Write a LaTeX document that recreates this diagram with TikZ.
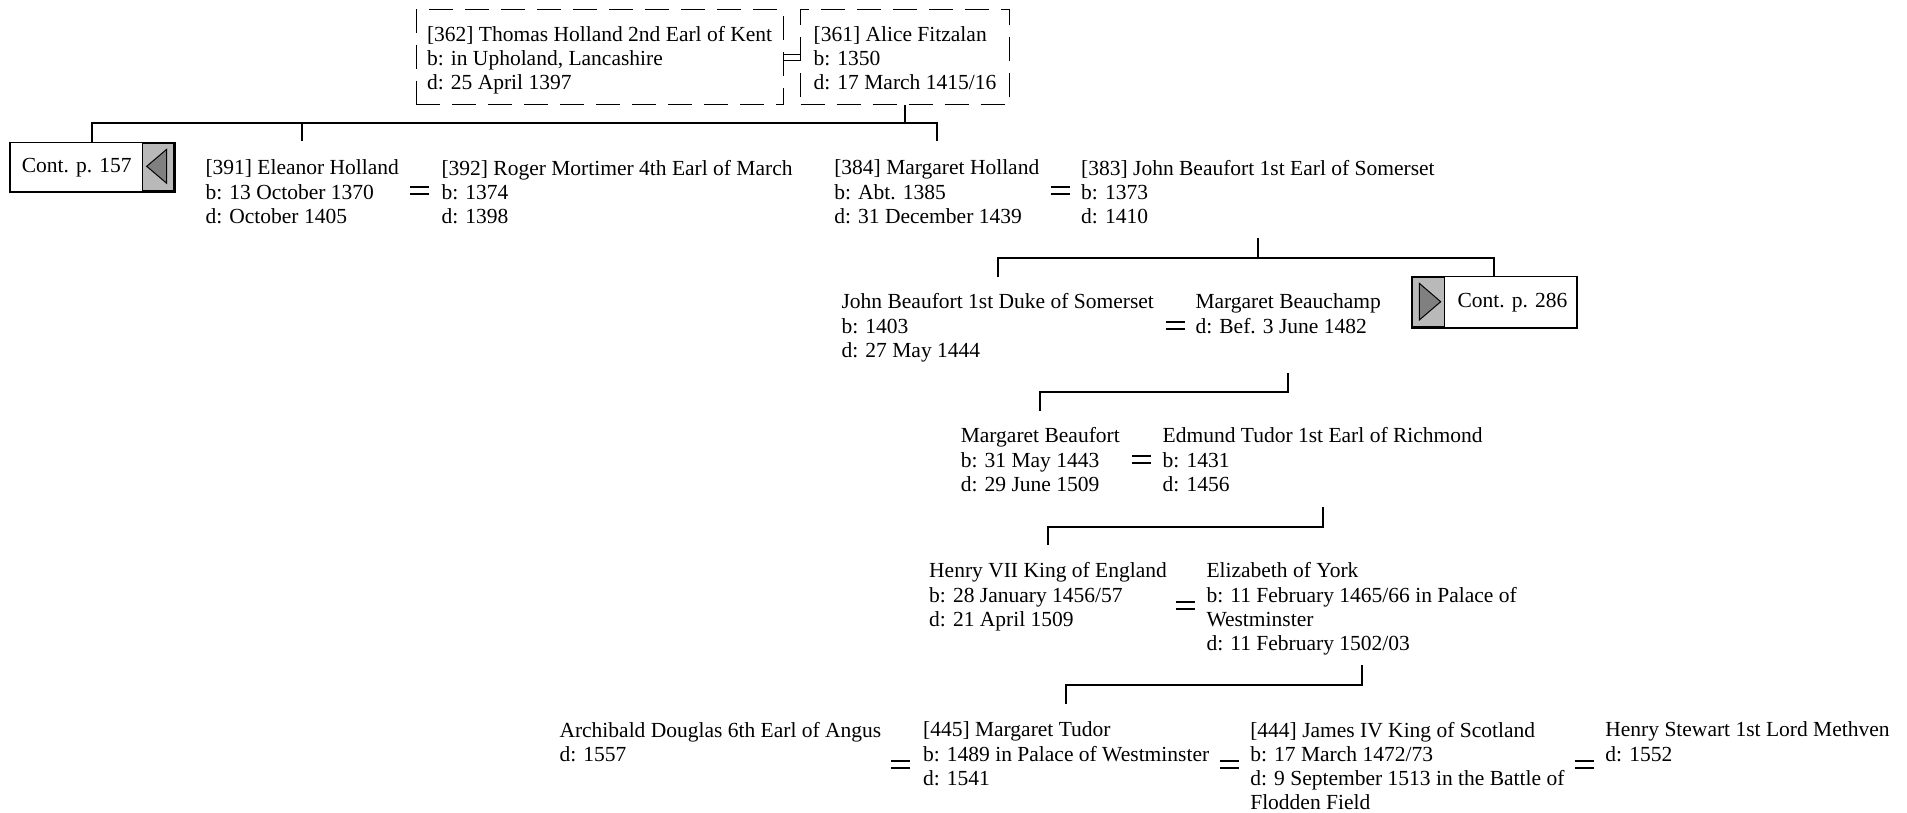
\documentclass[tikz,border=0pt]{standalone}
\usepackage{fontspec}
\setmainfont{Liberation Serif}
\usetikzlibrary{fit}
\begin{document}
\begin{tikzpicture}[x=1pt,y=-1pt,
  txt/.style={font=\fontsize{21.5}{24.3}\selectfont},
  person/.style={txt, anchor=north west, inner sep=0pt, outer sep=0pt, align=left},
  dbox/.style={draw, dashed, dash pattern=on 24pt off 12pt, line width=0.9pt, inner sep=0pt},
  tree/.style={line width=2pt, black},
  eqsign/.style={minimum width=19pt, minimum height=7pt, inner sep=0pt, outer sep=0pt},
  eqline/.style={line width=1.8pt},
  contbox/.style={draw, line width=1.2pt, fill=white, inner sep=0pt, minimum height=49pt},
  arrowtri/.style={fill=gray, draw, line width=1pt}
]
\useasboundingbox (0,0) rectangle (1907,812);

% ---- top couple (dashed boxes)
\node[person] (thomas) at (427,26.2) {[362] Thomas Holland 2nd Earl of Kent\\b: in Upholand, Lancashire\\d: 25 April 1397};
\node[person] (alice) at (813.6,26.2) {[361] Alice Fitzalan\\b: 1350\\d: 17 March 1415/16};
\node[dbox, fit={(416,9.7) ([xshift=11pt]thomas.east |- 0,104.6)}] (thomasBox) {};
\node[dbox, fit={(800.5,9.7) ([xshift=13pt]alice.east |- 0,104.6)}] (aliceBox) {};
\draw[line width=0.9pt] ([yshift=2.8pt]thomasBox.east) -- ([yshift=2.8pt]thomasBox.east -| aliceBox.west)
                         ([yshift=-2.8pt]thomasBox.east) -- ([yshift=-2.8pt]thomasBox.east -| aliceBox.west);

% ---- continuation boxes
\node[contbox, minimum width=164.7pt] (cont157) at (92.35,167.2) {};
\fill[gray!55] (142.7,142.7) rectangle (174.7,191.7);
\draw[line width=1.2pt] (cont157.north west) rectangle (cont157.south east);
\draw[line width=2.2pt] (142.7,142.9) -- (174.4,142.9) -- (174.4,191.5) -- (142.7,191.5);
\draw[line width=1.2pt] (142.7,142.7) -- (142.7,191.7);
\filldraw[arrowtri] (146.7,166.3) -- (166.7,149.3) -- (166.7,183.3) -- cycle;
\node[txt, inner sep=0pt] (t157) at (76.7,167.8) {Cont. p. 157};

\node[contbox, minimum width=165pt, minimum height=50.6pt] (cont286) at (1494.2,302) {};
\fill[gray!55] (1411.7,276.7) rectangle (1444.3,327.3);
\draw[line width=1.2pt] (cont286.north west) rectangle (cont286.south east);
\draw[line width=2.2pt] (1444.3,276.9) -- (1411.9,276.9) -- (1411.9,327.1) -- (1444.3,327.1);
\draw[line width=1.2pt] (1444.3,276.7) -- (1444.3,327.3);
\filldraw[arrowtri] (1440.7,301.7) -- (1419.3,283.3) -- (1419.3,320) -- cycle;
\node[txt, inner sep=0pt] (t286) at (1512.5,302.5) {Cont. p. 286};

% ---- row 2
\node[person] (eleanor) at (205.5,160) {[391] Eleanor Holland\\b: 13 October 1370\\d: October 1405};
\node[person] (roger) at (441.5,160) {[392] Roger Mortimer 4th Earl of March\\b: 1374\\d: 1398};
\node[person] (margH) at (834.3,160) {[384] Margaret Holland\\b: Abt. 1385\\d: 31 December 1439};
\node[person] (johnB) at (1081.2,160) {[383] John Beaufort 1st Earl of Somerset\\b: 1373\\d: 1410};
\node[eqsign] (eq1) at (419.6,190.5) {};
\node[eqsign] (eq2) at (1060,190.5) {};

% ---- row 3
\node[person] (johnD) at (841.6,293.8) {John Beaufort 1st Duke of Somerset\\b: 1403\\d: 27 May 1444};
\node[person] (beauchamp) at (1195.5,293.8) {Margaret Beauchamp\\d: Bef. 3 June 1482};
\node[eqsign] (eq3) at (1175.5,325.5) {};

% ---- row 4
\node[person] (mbeaufort) at (960.8,427.6) {Margaret Beaufort\\b: 31 May 1443\\d: 29 June 1509};
\node[person] (edmund) at (1162.7,427.6) {Edmund Tudor 1st Earl of Richmond\\b: 1431\\d: 1456};
\node[eqsign] (eq4) at (1141.5,459.3) {};

% ---- row 5
\node[person] (henry) at (929.2,562.6) {Henry VII King of England\\b: 28 January 1456/57\\d: 21 April 1509};
\node[person] (eliz) at (1206.5,562.6) {Elizabeth of York\\b: 11 February 1465/66 in Palace of\\Westminster\\d: 11 February 1502/03};
\node[eqsign] (eq5) at (1185.3,605.3) {};

% ---- row 6
\node[person] (archibald) at (559.5,721.9) {Archibald Douglas 6th Earl of Angus\\d: 1557};
\node[person] (mtudor) at (923.1,721.9) {[445] Margaret Tudor\\b: 1489 in Palace of Westminster\\d: 1541};
\node[person] (james) at (1250.3,721.9) {[444] James IV King of Scotland\\b: 17 March 1472/73\\d: 9 September 1513 in the Battle of\\Flodden Field};
\node[person] (hstewart) at (1605.4,721.9) {Henry Stewart 1st Lord Methven\\d: 1552};
\node[eqsign] (eq6) at (900.5,764.6) {};
\node[eqsign] (eq7) at (1229,764.6) {};
\node[eqsign] (eq8) at (1584,764.6) {};

% ---- equal signs
\foreach \e in {eq1,eq2,eq3,eq4,eq5,eq6,eq7,eq8}{
  \draw[eqline] (\e.north west) -- (\e.north east) (\e.south west) -- (\e.south east);
}

% ---- connectors
\coordinate (bar1) at (0,122.8);
\draw[tree] (aliceBox.south) -- (aliceBox.south |- bar1);
\draw[tree] (cont157.north) -- (cont157.north |- bar1) -- (bar1 -| margH.north) -- ([yshift=18.9pt]margH.north);
\draw[tree] (bar1 -| eleanor.north) -- ([yshift=18.9pt]eleanor.north);

\coordinate (bar2) at (0,257.8);
\draw[tree] ([yshift=-78.4pt]johnB.north) -- (johnB.north |- bar2);
\draw[tree] ([yshift=16.5pt]johnD.north) -- (johnD.north |- bar2) -- (bar2 -| cont286.north) -- (cont286.north);

\coordinate (bar3) at (0,391.6);
\coordinate (start3) at ([yshift=-79.6pt]johnD.north);
\draw[tree] (start3 -| beauchamp.north) -- (bar3 -| beauchamp.north) -- (bar3 -| mbeaufort.north) -- ([yshift=16.6pt]mbeaufort.north);

\coordinate (bar4) at (0,526.6);
\draw[tree] ([yshift=-79.6pt]edmund.north) -- (bar4 -| edmund.north) -- (bar4 -| henry.north) -- ([yshift=17.7pt]henry.north);

\coordinate (bar5) at (0,684.7);
\draw[tree] ([yshift=-102.7pt]eliz.north) -- (bar5 -| eliz.north) -- (bar5 -| mtudor.north) -- ([yshift=17.7pt]mtudor.north);
\end{tikzpicture}
\end{document}
